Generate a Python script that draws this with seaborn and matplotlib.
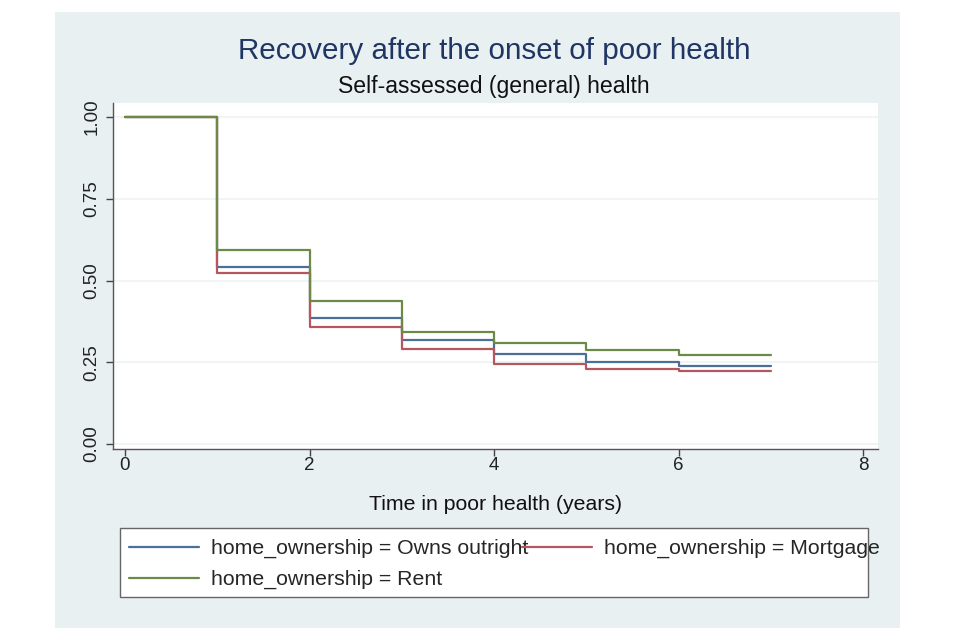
import numpy as np
import pandas as pd
import seaborn as sns
import matplotlib.pyplot as plt
from matplotlib.patches import Rectangle

# Kaplan-Meier style step estimates
times = [0, 1, 2, 3, 4, 5, 6, 7]
owns_outright = [1.0, 0.540, 0.387, 0.318, 0.276, 0.252, 0.238, 0.238]
mortgage = [1.0, 0.522, 0.357, 0.290, 0.244, 0.229, 0.224, 0.224]
rent = [1.0, 0.592, 0.437, 0.342, 0.310, 0.287, 0.271, 0.271]
groups = ["home_ownership = Owns outright", "home_ownership = Mortgage", "home_ownership = Rent"]
colors = ["#4a6f99", "#b5575d", "#6b8a45"]

y_ticks = [0.0, 0.25, 0.5, 0.75, 1.0]
x_ticks = [0, 2, 4, 6, 8]

frames = []
for name, vals in zip(groups, [owns_outright, mortgage, rent]):
    frames.append(pd.DataFrame({"time": times, "surv": vals, "group": name}))
df = pd.concat(frames, ignore_index=True)

sns.set_style("white")
plt.rcParams['font.family'] = ['Liberation Sans', 'DejaVu Sans']

fig = plt.figure(figsize=(9.6, 6.4), dpi=100)
fig.patch.set_facecolor("white")
# light bluish-grey graph region
fig.patches.append(Rectangle((55 / 960, 1 - 628 / 640), 845 / 960, 616 / 640,
                             transform=fig.transFigure, facecolor="#e8f0f2",
                             edgecolor="none", zorder=-10))

ax = fig.add_axes([113 / 960, 1 - 449 / 640, 765 / 960, 346 / 640])
ax.set_facecolor("white")

sns.lineplot(data=df, x="time", y="surv", hue="group", palette=dict(zip(groups, colors)),
             drawstyle="steps-post", linewidth=1.6, ax=ax, legend=False, errorbar=None)

ax.set_xlim(-0.13, 8.16)
ax.set_ylim(-0.015, 1.043)
ax.set_xticks(x_ticks)
ax.set_xticklabels([str(t) for t in x_ticks], fontsize=13.5, color="#222222")
ax.set_yticks(y_ticks)
ax.set_yticklabels(["%.2f" % v for v in y_ticks], fontsize=13.5, color="#222222",
                   rotation=90, va="center")
ax.tick_params(axis="both", direction="out", length=5, width=1, color="#444444",
               left=True, bottom=True)
ax.tick_params(axis="x", pad=1)
ax.tick_params(axis="y", pad=4)
ax.grid(axis="y", color="#edf2f3", linewidth=1.2)
ax.set_axisbelow(True)
for side in ["top", "right"]:
    ax.spines[side].set_visible(False)
for side in ["left", "bottom"]:
    ax.spines[side].set_color("#555555")
    ax.spines[side].set_linewidth(1.0)

ax.set_xlabel("Time in poor health (years)", fontsize=15.3, color="#111111", labelpad=15)
ax.set_ylabel("")

fig.text(494 / 960, 1 - 51 / 640, "Recovery after the onset of poor health",
         ha="center", va="center", fontsize=21.3, color="#1f3564")
fig.text(494 / 960, 1 - 87 / 640, "Self-assessed (general) health",
         ha="center", va="center", fontsize=16.6, color="#111111")

# legend frame drawn separately so the entries may run past it, as in the original
fig.patches.append(Rectangle((120 / 960, 1 - 597 / 640), 748 / 960, 69 / 640,
                             transform=fig.transFigure, facecolor="white",
                             edgecolor="#666666", linewidth=1.0, zorder=4))

# column-major fill: col 1 = Owns, Rent ; col 2 = Mortgage
order = [0, 2, 1]
handles = [plt.Line2D([], [], color=colors[i], linewidth=1.6) for i in order]
labels = [groups[i] for i in order]
leg = fig.legend(handles, labels, ncol=2, loc="upper left",
                 bbox_to_anchor=(125 / 960, 1 - 535 / 640),
                 fontsize=15.3, handlelength=3.3, handletextpad=0.55, columnspacing=-0.3,
                 frameon=False, borderaxespad=0, borderpad=0.2, labelspacing=0.55)

fig.savefig("out.png", dpi=100)
